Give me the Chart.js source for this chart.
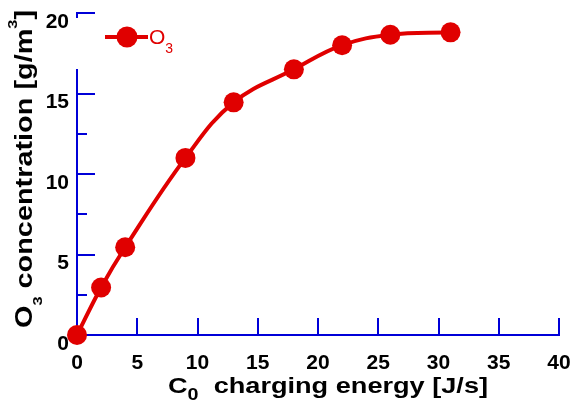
<!DOCTYPE html>
<html>
<head>
<meta charset="utf-8">
<script src="https://cdn.jsdelivr.net/npm/chart.js@4/dist/chart.umd.min.js"></script>
<style>
  html, body { margin: 0; padding: 0; background: #fff; }
  #wrap { width: 575px; height: 401px; }
</style>
</head>
<body>
<div id="wrap"><canvas id="c"></canvas></div>
<script>
// O3 output vs charging energy
const energy = [0, 2, 4, 9, 13, 18, 22, 26, 31];
const ozone = [0, 2.95, 5.45, 11.0, 14.45, 16.5, 18.0, 18.65, 18.8];
const xTicks = [0, 5, 10, 15, 20, 25, 30, 35, 40];
const yTicks = [0, 5, 10, 15, 20];
const yMinorTicks = [2.5, 7.5, 12.5, 17.5];

const RED = "#e00000";
const BLUE = "#0000d8";
const FONT = "'Liberation Sans', Arial, sans-serif";

// draws a run of text pieces (sub/superscripts) starting at x, baseline y
function drawRuns(ctx, runs, x, y) {
    for (const r of runs) {
        ctx.font = r.font;
        ctx.fillText(r.text, x, y + (r.dy || 0));
        x += ctx.measureText(r.text).width;
    }
}

function runsWidth(ctx, runs) {
    let w = 0;
    for (const r of runs) {
        ctx.font = r.font;
        w += ctx.measureText(r.text).width;
    }
    return w;
}

// the source figure is stretched along the text direction, so titles are
// squeezed to a fixed length instead of drawn at natural width
function drawTitle(ctx, runs, cx, cy, len, angle) {
    const w = runsWidth(ctx, runs);
    ctx.save();
    ctx.translate(cx, cy);
    ctx.rotate(angle);
    ctx.scale(len / w, 1);
    drawRuns(ctx, runs, -w / 2, 0);
    ctx.restore();
}

const xTitle = [
    { text: "C", font: "bold 22px " + FONT },
    { text: "0", font: "bold 16px " + FONT, dy: 7 },
    { text: "  charging energy [J/s]", font: "bold 22px " + FONT },
];
const yTitle = [
    { text: "O", font: "bold 23px " + FONT },
    { text: "3", font: "bold 13px " + FONT, dy: 10 },
    { text: " concentration [g/m", font: "bold 23px " + FONT },
    { text: "3", font: "bold 13px " + FONT, dy: -15 },
    { text: "]", font: "bold 23px " + FONT },
];

const axisDecor = {
    id: "axisDecor",
    beforeDatasetsDraw(chart) {
        const { ctx, scales: { x, y } } = chart;
        ctx.save();
        ctx.strokeStyle = BLUE;
        ctx.lineWidth = 2;
        ctx.beginPath();
        for (const v of xTicks) {
            const px = Math.round(x.getPixelForValue(v));
            ctx.moveTo(px, y.bottom);
            ctx.lineTo(px, y.bottom - 17);
        }
        for (const v of yTicks) {
            const py = Math.round(y.getPixelForValue(v));
            ctx.moveTo(x.left, py);
            ctx.lineTo(x.left + 18, py);
        }
        for (const v of yMinorTicks) {
            const py = Math.round(y.getPixelForValue(v));
            ctx.moveTo(x.left, py);
            ctx.lineTo(x.left + 10, py);
        }
        ctx.stroke();
        ctx.restore();
    },
    afterDatasetsDraw(chart) {
        const { ctx, scales: { x } } = chart;
        ctx.save();
        // legend box sits on top of the y axis
        ctx.fillStyle = "#fff";
        ctx.fillRect(x.left - 3, 18, 112, 51);
        ctx.strokeStyle = RED;
        ctx.lineWidth = 4;
        ctx.beginPath();
        ctx.moveTo(105, 37);
        ctx.lineTo(148, 37);
        ctx.stroke();
        ctx.fillStyle = RED;
        ctx.beginPath();
        ctx.arc(127, 37, 10.5, 0, Math.PI * 2);
        ctx.fill();
        drawRuns(ctx, [
            { text: "O", font: "21px " + FONT },
            { text: "3", font: "14px " + FONT, dy: 9 },
        ], 149, 44);

        ctx.fillStyle = "#000";
        ctx.textBaseline = "alphabetic";
        drawTitle(ctx, xTitle, 328, 393, 320, 0);
        drawTitle(ctx, yTitle, 32, 169, 318, -Math.PI / 2);
        ctx.restore();
    },
};

const points = energy.map((e, i) => ({ x: e, y: ozone[i] }));

new Chart(document.getElementById("c"), {
    type: "scatter",
    data: {
        datasets: [{
            label: "O3",
            data: points,
            showLine: true,
            tension: 0.4,
            borderColor: RED,
            backgroundColor: RED,
            borderWidth: 4,
            pointRadius: 10,
            pointHoverRadius: 10,
            pointBorderWidth: 0,
            clip: false,
        }],
    },
    options: {
        responsive: true,
        maintainAspectRatio: false,
        animation: false,
        events: [],
        layout: { padding: { top: 13, right: 16, left: 0, bottom: 0 } },
        plugins: { legend: { display: false }, tooltip: { enabled: false } },
        scales: {
            x: {
                type: "linear",
                min: 0,
                max: 40,
                afterBuildTicks: (s) => { s.ticks = xTicks.map((v) => ({ value: v })); },
                afterFit: (s) => { s.height = 66; s.paddingRight = 0; s.paddingLeft = 0; },
                grid: { display: false },
                border: { display: true, color: BLUE, width: 2 },
                ticks: { color: "#000", font: { family: FONT, size: 21, weight: "bold" }, padding: 8, maxRotation: 0 },
            },
            y: {
                min: 0,
                max: 20,
                afterBuildTicks: (s) => { s.ticks = yTicks.map((v) => ({ value: v })); },
                afterFit: (s) => { s.width = 77; s.paddingTop = 0; s.paddingBottom = 0; },
                grid: { display: false },
                border: { display: true, color: BLUE, width: 2 },
                ticks: { color: "#000", font: { family: FONT, size: 21, weight: "bold" }, padding: 0, labelOffset: 9 },
            },
        },
    },
    plugins: [axisDecor],
});
</script>
</body>
</html>
